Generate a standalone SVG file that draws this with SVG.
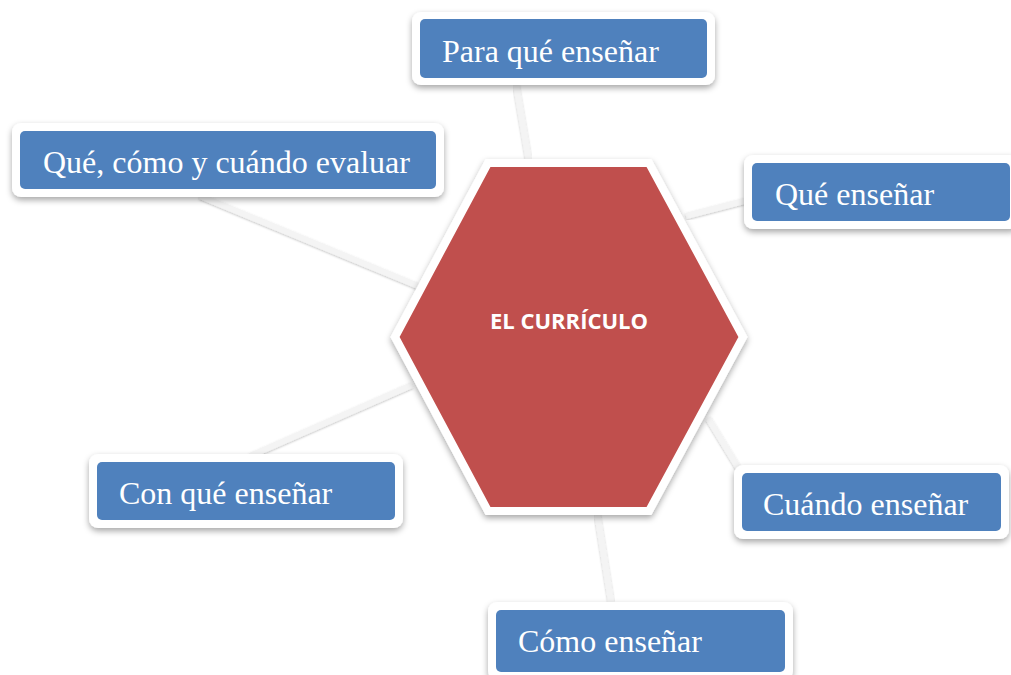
<svg xmlns="http://www.w3.org/2000/svg" width="1011" height="675" viewBox="0 0 1011 675">
<defs>
<filter id="sh" x="-20%" y="-20%" width="140%" height="150%">
<feDropShadow dx="0" dy="3" stdDeviation="3" flood-color="#000" flood-opacity="0.35"/>
</filter>
<filter id="lsh" x="-20%" y="-20%" width="140%" height="140%">
<feDropShadow dx="0" dy="1" stdDeviation="1.2" flood-color="#000" flood-opacity="0.25"/>
</filter>
<style>
.frame{fill:#fff;filter:url(#sh)}
.box{fill:#4F81BD}
.lbl{font-family:"Liberation Serif","Times New Roman",serif;font-size:32px;fill:#fff}
.con{stroke:#f4f4f4;stroke-width:6;fill:none;filter:url(#lsh)}
.hex{fill:#C0504D;stroke:#fff;stroke-width:8;stroke-linejoin:miter;filter:url(#sh)}
.htxt{font-family:"Open Sans","Noto Sans",sans-serif;font-weight:bold;font-size:22px;fill:#fff}
</style>
</defs>
<rect width="1011" height="675" fill="#fff"/>
<g id="connectors">
<line class="con" x1="516" y1="84" x2="529" y2="162"/>
<line class="con" x1="200" y1="196" x2="418" y2="286"/>
<line class="con" x1="686" y1="216" x2="748" y2="200"/>
<line class="con" x1="250" y1="456" x2="412" y2="385"/>
<line class="con" x1="708" y1="418" x2="742" y2="474"/>
<line class="con" x1="597" y1="512" x2="612" y2="608"/>
</g>
<g id="node-curriculo">
<polygon class="hex" points="488,163 649,163 743,337 649,511 488,511 395,337"/>
<text class="htxt" x="569" y="329" text-anchor="middle">EL CURRÍCULO</text>
</g>
<g id="node-para">
<rect class="frame" x="412" y="12" width="303" height="73" rx="9"/>
<rect class="box" x="420" y="19" width="287" height="59" rx="5"/>
<text class="lbl" x="442" y="62">Para qué enseñar</text>
</g>
<g id="node-evaluar">
<rect class="frame" x="12" y="123" width="432" height="74" rx="9"/>
<rect class="box" x="20" y="131" width="416" height="58" rx="5"/>
<text class="lbl" x="43" y="173">Qué, cómo y cuándo evaluar</text>
</g>
<g id="node-que">
<rect class="frame" x="744" y="155" width="275" height="74" rx="9"/>
<rect class="box" x="752" y="163" width="258" height="58" rx="5"/>
<text class="lbl" x="775" y="205">Qué enseñar</text>
</g>
<g id="node-con">
<rect class="frame" x="89" y="454" width="314" height="74" rx="9"/>
<rect class="box" x="97" y="462" width="298" height="58" rx="5"/>
<text class="lbl" x="119" y="504">Con qué enseñar</text>
</g>
<g id="node-cuando">
<rect class="frame" x="734" y="465" width="275" height="74" rx="9"/>
<rect class="box" x="742" y="473" width="259" height="58" rx="5"/>
<text class="lbl" x="763" y="515">Cuándo enseñar</text>
</g>
<g id="node-como">
<rect class="frame" x="488" y="602" width="305" height="78" rx="9"/>
<rect class="box" x="496" y="610" width="289" height="62" rx="5"/>
<text class="lbl" x="518" y="652">Cómo enseñar</text>
</g>
</svg>
